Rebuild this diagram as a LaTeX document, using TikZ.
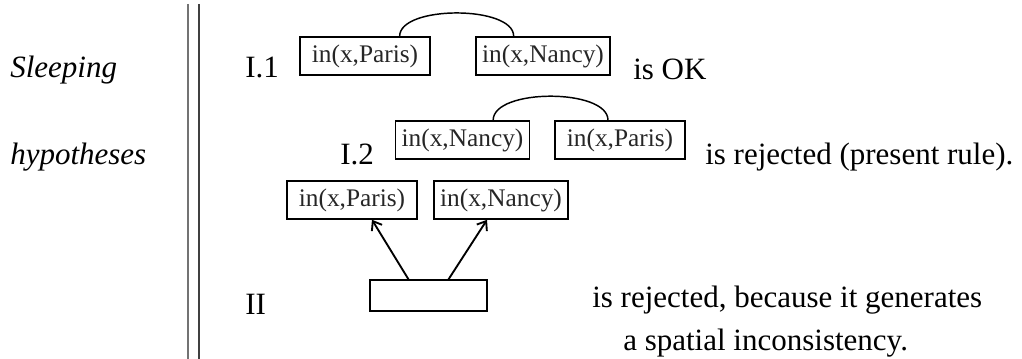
\documentclass[tikz,border=0pt]{standalone}
\usepackage{fontspec}
\setmainfont{Liberation Serif}
\usetikzlibrary{arrows.meta}

\tikzset{
  atom/.style={draw=black, line width=1.2pt, text=black!85, font=\fontsize{19}{21}\selectfont, inner xsep=4.5pt, inner ysep=0pt, minimum width=97.5pt, minimum height=28.5pt},
  body/.style={font=\fontsize{23.25}{28}\selectfont, inner sep=0pt, anchor=base west},
  link/.style={line width=1.1pt},
  impl/.style={line width=1.4pt, -{Straight Barb[length=6pt,width=9pt]}},
}

\begin{document}
\begin{tikzpicture}[x=0.75pt,y=-0.75pt]
\useasboundingbox (0,0) rectangle (1022,359);

% left column
\node[body] (sleeping) at (10,78) {\itshape Sleeping};
\node[body] (hypotheses) at (10,165) {\itshape hypotheses};
\draw[black!55, line width=1.1pt] (188,4) -- (188,359);
\draw[black!75, line width=1.1pt] (199,4) -- (199,359);

% case I.1
\node[body] (caseA) at (245,78) {I.1};
\node[atom] (parisA) at (365,56) {in(x,Paris)};
\node[atom] (nancyA) at (543,56) {in(x,Nancy)};
\node[body] (okA) at (633,80) {is OK};
\draw[link] ([xshift=26pt]parisA.north) .. controls +(0,-31) and +(0,-31) .. ([xshift=-22pt]nancyA.north);

% case I.2
\node[body] (caseB) at (340,165) {I.2};
\node[atom] (nancyB) at (462.5,140) {in(x,Nancy)};
\node[atom] (parisB) at (620,140) {in(x,Paris)};
\node[body] (rejB) at (705,165) {is rejected (present rule).};
\draw[link] ([xshift=23pt]nancyB.north) .. controls +(0,-32) and +(0,-32) .. ([xshift=-9pt]parisB.north);

% case II
\node[atom] (parisC) at (352,200) {in(x,Paris)};
\node[atom] (nancyC) at (501,200) {in(x,Nancy)};
\node[draw=black, line width=1.2pt, minimum width=87.75pt, minimum height=23pt, inner sep=0pt] (empty) at (428.5,295.5) {};
\node[body] (caseC) at (245,315) {II};
\node[body] (rejC) at (592,308) {is rejected, because it generates};
\node[body] (rejD) at (623,351) {a spatial inconsistency.};
\draw[impl] ([xshift=-15pt]empty.north) -- ([xshift=15pt]parisC.south);
\draw[impl] ([xshift=15pt]empty.north) -- ([xshift=-10.5pt]nancyC.south);

\end{tikzpicture}
\end{document}
